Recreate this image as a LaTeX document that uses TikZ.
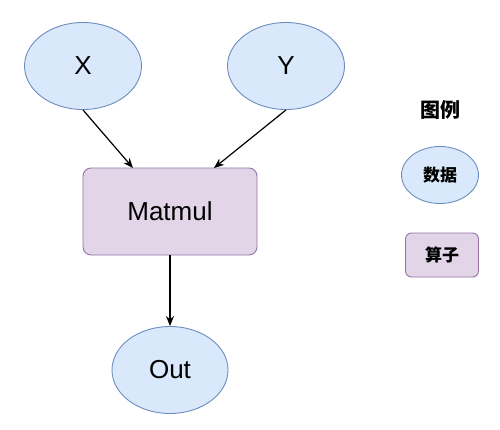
\documentclass[tikz,border=0pt]{standalone}
\usepackage{fontspec}
\setmainfont{Liberation Sans}
\newfontfamily\cjk{Noto Sans CJK SC}
\usetikzlibrary{shapes.geometric,arrows.meta}
\definecolor{datafill}{HTML}{DAE8FC}
\definecolor{datadraw}{HTML}{6C8EBF}
\definecolor{opfill}{HTML}{E1D5E7}
\definecolor{opdraw}{HTML}{9673A6}
\tikzset{
  data/.style={ellipse, draw=datadraw, fill=datafill, line width=0.9pt, inner sep=0pt},
  op/.style={rectangle, rounded corners=8pt, draw=opdraw, fill=opfill, line width=0.9pt, inner sep=0pt},
  conn/.style={line width=1.2pt, -{Stealth[length=10pt,width=8pt]}},
  big/.style={font=\fontsize{26}{30}\selectfont},
}
\begin{document}
\begin{tikzpicture}[x=1pt,y=-1pt]
\useasboundingbox[fill=white] (0,0) rectangle (500,429);
\node[data, big, minimum width=117pt, minimum height=87pt] (x) at (83,66) {X};
\node[data, big, minimum width=117pt, minimum height=87pt] (y) at (286,66) {Y};
\node[op, big, minimum width=174pt, minimum height=87pt] (m) at (170,211.5) {Matmul};
\node[data, big, minimum width=116pt, minimum height=87pt] (out) at (170,370) {Out};
\coordinate (xb) at (133,168);
\coordinate (yb) at (214,168);
\draw[conn] (x.south) -- (xb);
\draw[conn] (y.south) -- (yb);
\draw[conn] (m.south) -- (out.north);
\node[font=\cjk\bfseries\fontsize{20}{24}\selectfont] (lg) at (440,110) {图例};
\node[data, minimum width=77pt, minimum height=57pt, font=\cjk\bfseries\fontsize{17}{20}\selectfont] (ld) at (440,175) {数据};
\node[op, rounded corners=6pt, minimum width=73pt, minimum height=44pt, font=\cjk\bfseries\fontsize{17}{20}\selectfont] (lo) at (442,255) {算子};
\end{tikzpicture}
\end{document}
